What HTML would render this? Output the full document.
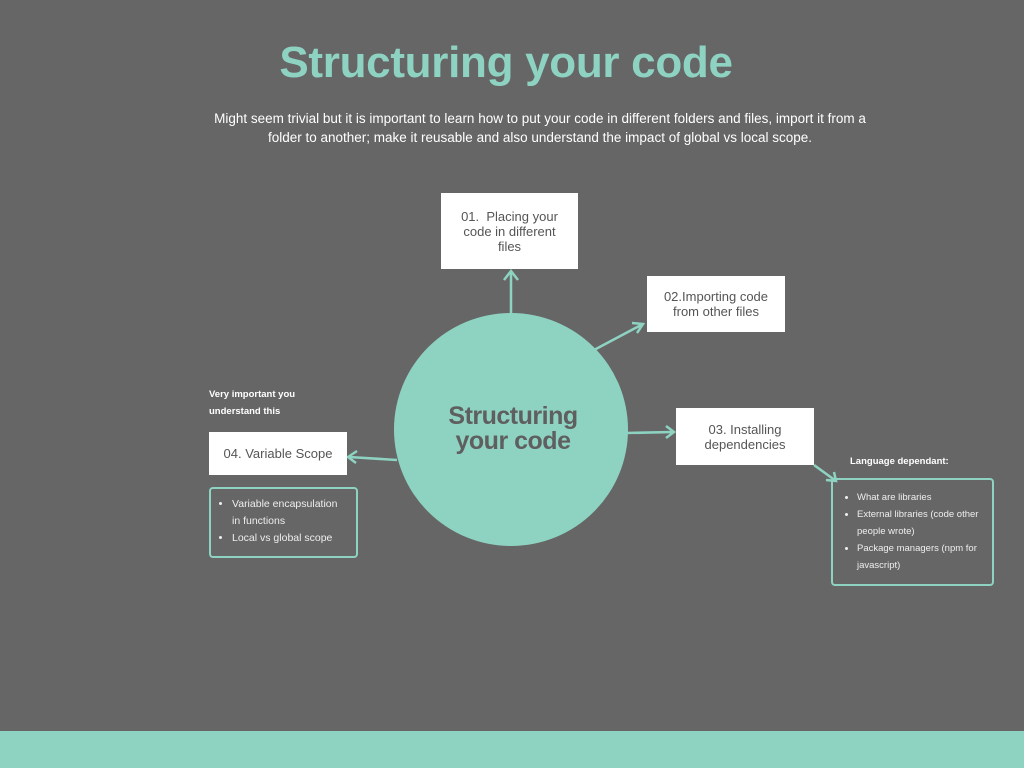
<!DOCTYPE html>
<html><head><meta charset="utf-8"><style>
body{margin:0;width:1024px;height:768px;background:#666;position:relative;overflow:hidden;font-family:"Liberation Sans",sans-serif}
.a{position:absolute}
.box{position:absolute;background:#fff;color:#555;font-size:13px;text-align:center;display:flex;align-items:center;justify-content:center;line-height:15px}
.lst{position:absolute;border:2px solid #8ed3c2;border-radius:4px;box-sizing:border-box;color:#eee;font-size:9.5px;line-height:17px}
.lst ul{margin:0;padding-left:21px}
.lbl{position:absolute;color:#fff;font-weight:bold;font-size:9.5px;line-height:17px}
</style></head><body>
<div class="a" style="left:0;top:38px;width:1012px;text-align:center;color:#8ed3c2;font-weight:bold;font-size:44px;letter-spacing:-0.3px">Structuring your code</div>
<div class="a" style="left:208px;top:109px;width:664px;text-align:center;color:#fff;font-size:13.5px;line-height:19px">Might seem trivial but it is important to learn how to put your code in different folders and files, import it from a folder to another; make it reusable and also understand the impact of global vs local scope.</div>
<div class="a" style="left:394px;top:313px;width:234px;height:233px;border-radius:50%;background:#8ed3c2"></div>
<div class="a" style="left:396px;top:404px;width:234px;text-align:center;color:#5f5f5f;font-weight:bold;font-size:25px;line-height:25px;letter-spacing:-0.5px">Structuring<br>your code</div>
<svg class="a" style="left:0;top:0" width="1024" height="768" fill="none" stroke="#8ed3c2" stroke-width="2.5">
<path d="M511 313 V272 M504 280 L511 271 L518 280"/>
<path d="M594 350 L643 324 M632 323 L643 324 L637 333"/>
<path d="M626 433 L674 432 M666 426 L674 432 L666 438"/>
<path d="M397 460 L349 457 M357 451 L348 457 L356 463"/>
<path d="M814 465 L836 481 M826 480 L836 481 L834 472"/>
</svg>
<div class="box" style="left:441px;top:193px;width:137px;height:76px">01.&nbsp; Placing your<br>code in different<br>files</div>
<div class="box" style="left:647px;top:276px;width:138px;height:56px">02.Importing code<br>from other files</div>
<div class="box" style="left:676px;top:408px;width:138px;height:57px">03. Installing<br>dependencies</div>
<div class="box" style="left:209px;top:432px;width:138px;height:43px">04. Variable Scope</div>
<div class="lbl" style="left:209px;top:386px">Very important you<br>understand this</div>
<div class="lst" style="left:209px;top:487px;width:149px;height:71px;padding-top:7px;font-size:10.5px"><ul style="padding-right:8px"><li>Variable encapsulation in functions</li><li>Local vs global scope</li></ul></div>
<div class="lbl" style="left:850px;top:453px">Language dependant:</div>
<div class="lst" style="left:831px;top:478px;width:163px;height:108px;padding-top:9px"><ul style="padding-left:24px"><li>What are libraries</li><li>External libraries (code other people wrote)</li><li>Package managers (npm for javascript)</li></ul></div>
<div class="a" style="left:0;top:731px;width:1024px;height:37px;background:#8ed3c2"></div>
</body></html>
